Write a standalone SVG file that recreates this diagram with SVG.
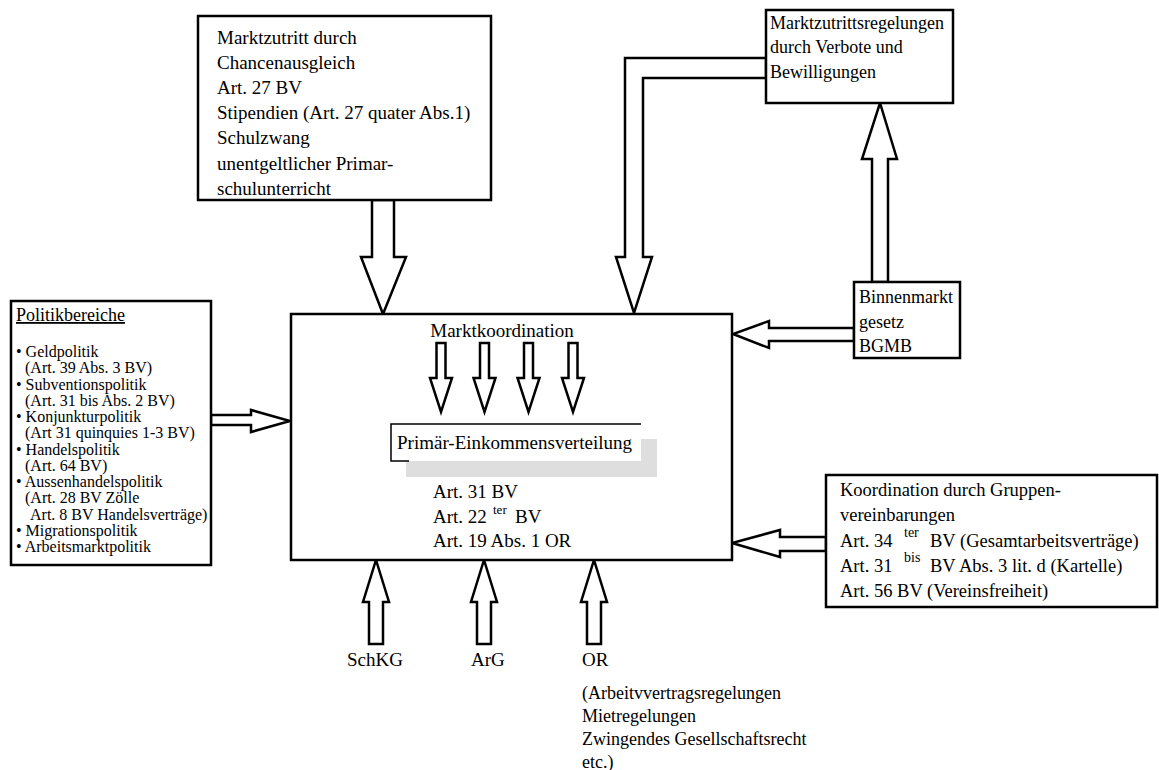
<svg xmlns="http://www.w3.org/2000/svg" width="1159" height="770" viewBox="0 0 1159 770" font-family="'Liberation Serif','Times New Roman',serif">
<style>
text{font-family:"Liberation Serif","Times New Roman",serif;fill:#000}
.m{font-size:19px}
.k{font-size:18.5px}
.z{font-size:18px}
.s{font-size:16px}
.sup{font-size:13px}
.sup2{font-size:14px}
.box{fill:#fff;stroke:#000;stroke-width:2.5}
.arr{fill:#fff;stroke:#000;stroke-width:2.5;stroke-linejoin:miter}
</style>
<rect width="1159" height="770" fill="#fff"/>
<g id="connectors">
<polygon class="arr" points="372,200 372,257 361,257 383,314 406,257 394,257 394,200"/>
<polygon class="arr" points="766,58 625,58 625,257 616,257 634,313 652,257 643,257 643,78 766,78"/>
<polygon class="arr" points="872,282 872,159 862,159 880,103 897,159 888,159 888,282"/>
<polygon class="arr" points="854,328 769,328 769,321 733,334 769,348 769,341 854,341"/>
<polygon class="arr" points="826,537 780,537 780,530 732,543 780,557 780,551 826,551"/>
<polygon class="arr" points="211,415 251,415 251,410 290,421 251,432 251,425 211,425"/>
<polygon class="arr" points="369,644 369,602 363,602 376,560 389,602 383,602 383,644"/>
<polygon class="arr" points="477,644 477,602 471,602 484,560 497,602 491,602 491,644"/>
<polygon class="arr" points="587,644 587,602 581,602 594,560 607,602 601,602 601,644"/>
</g>
<g id="markt">
<rect class="box" x="291" y="314" width="441" height="246"/>
<text class="m" x="502" y="337" text-anchor="middle">Marktkoordination</text>
<g id="inner-arrows">
<polygon class="arr" points="436.5,343 436.5,378 430,378 441,412 452,378 445.5,378 445.5,343"/>
<polygon class="arr" points="480,343 480,378 473.5,378 484.5,412 495.5,378 489,378 489,343"/>
<polygon class="arr" points="524,343 524,378 517.5,378 528.5,412 539.5,378 533,378 533,343"/>
<polygon class="arr" points="568.5,343 568.5,378 562,378 573,412 584,378 577.5,378 577.5,343"/>
</g>
<g id="primaer">
<rect x="406" y="439" width="251" height="38" fill="#dedede"/>
<rect x="391" y="424" width="250" height="37" fill="#fff"/>
<polyline points="641,424 391,424 391,461 409,461" fill="none" stroke="#000" stroke-width="1.5"/>
<text class="m" x="397" y="449">Primär-Einkommensverteilung</text>
</g>
<text class="m" x="433" y="498">Art. 31 BV</text>
<text class="m" x="433" y="523">Art. 22 <tspan class="sup" x="493" y="514">ter</tspan><tspan x="515" y="523">BV</tspan></text>
<text class="m" x="433" y="547">Art. 19 Abs. 1 OR</text>
</g>
<g id="chancen">
<rect class="box" x="198" y="16" width="293" height="184"/>
<text class="m" x="217" y="44">Marktzutritt durch</text>
<text class="m" x="217" y="69">Chancenausgleich</text>
<text class="m" x="217" y="94">Art. 27 BV</text>
<text class="m" x="217" y="119">Stipendien (Art. 27 quater Abs.1)</text>
<text class="m" x="217" y="144">Schulzwang</text>
<text class="m" x="217" y="170">unentgeltlicher Primar-</text>
<text class="m" x="217" y="195">schulunterricht</text>
</g>
<g id="zutrittsregel">
<rect class="box" x="766" y="10" width="187" height="93"/>
<text class="z" x="770" y="29">Marktzutrittsregelungen</text>
<text class="z" x="770" y="53">durch Verbote und</text>
<text class="z" x="770" y="78">Bewilligungen</text>
</g>
<g id="binnenmarkt">
<rect class="box" x="854" y="282" width="106" height="76"/>
<text class="z" x="859" y="303">Binnenmarkt</text>
<text class="z" x="859" y="328">gesetz</text>
<text class="z" x="859" y="352">BGMB</text>
</g>
<g id="politik">
<rect class="box" x="11" y="301" width="200" height="264"/>
<text x="16" y="321" font-size="18" text-decoration="underline">Politikbereiche</text>
<text class="s" x="16" y="357">• Geldpolitik</text>
<text class="s" x="25" y="373">(Art. 39 Abs. 3 BV)</text>
<text class="s" x="16" y="389.5">• Subventionspolitik</text>
<text class="s" x="25" y="406">(Art. 31 bis Abs. 2 BV)</text>
<text class="s" x="16" y="422">• Konjunkturpolitik</text>
<text class="s" x="25" y="438">(Art 31 quinquies 1-3 BV)</text>
<text class="s" x="16" y="454.5">• Handelspolitik</text>
<text class="s" x="25" y="471">(Art. 64 BV)</text>
<text class="s" x="16" y="487">• Aussenhandelspolitik</text>
<text class="s" x="25" y="503">(Art. 28 BV Zölle</text>
<text class="s" x="30" y="519.5">Art. 8 BV Handelsverträge)</text>
<text class="s" x="16" y="536">• Migrationspolitik</text>
<text class="s" x="16" y="552">• Arbeitsmarktpolitik</text>
</g>
<g id="koordination">
<rect class="box" x="826" y="475" width="331" height="132"/>
<text class="k" x="840" y="496">Koordination durch Gruppen-</text>
<text class="k" x="840" y="521">vereinbarungen</text>
<text class="k" x="840" y="547">Art. 34 <tspan class="sup2" x="904" y="537">ter</tspan><tspan x="930" y="547">BV (Gesamtarbeitsverträge)</tspan></text>
<text class="k" x="840" y="572">Art. 31 <tspan class="sup2" x="904" y="562">bis</tspan><tspan x="930" y="572">BV Abs. 3 lit. d (Kartelle)</tspan></text>
<text class="k" x="840" y="597">Art. 56 BV (Vereinsfreiheit)</text>
</g>
<g id="labels">
<text class="m" x="347" y="666">SchKG</text>
<text class="m" x="471" y="666">ArG</text>
<text class="m" x="582" y="666">OR</text>
<text class="z" x="582" y="699">(Arbeitvvertragsregelungen</text>
<text class="z" x="582" y="722">Mietregelungen</text>
<text class="z" x="582" y="745">Zwingendes Gesellschaftsrecht</text>
<text class="z" x="582" y="768">etc.)</text>
</g>
</svg>
